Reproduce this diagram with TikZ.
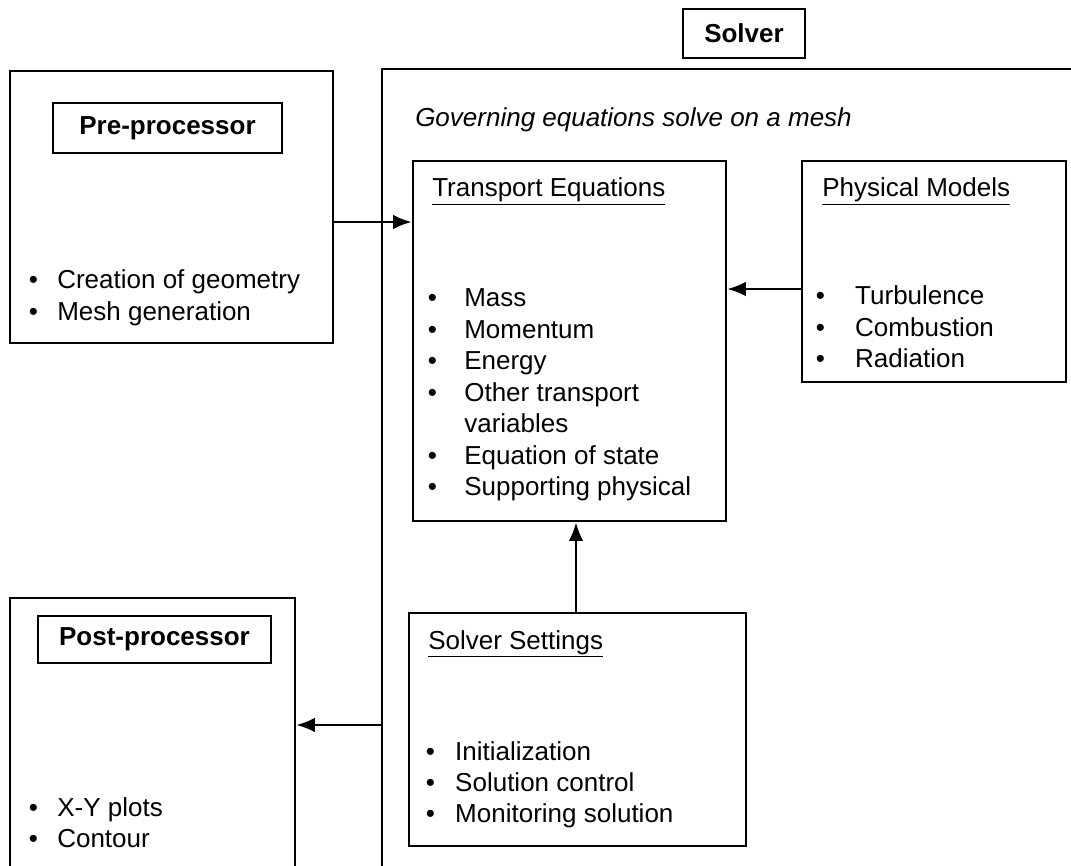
\documentclass[tikz,border=0pt]{standalone}
\usepackage{fontspec}
\setmainfont{Liberation Sans}
\usetikzlibrary{arrows.meta}
\newlength\bw
\newcommand\bl{\makebox[\bw][l]{\textbullet}}
\newcommand\ind{\hspace*{\bw}}
\newcommand\blist[2]{\setlength\bw{#1}\parbox[t]{9cm}{\raggedright #2}}
\begin{document}
\begin{tikzpicture}[x=0.75pt,y=-0.75pt,
  every node/.style={font=\fontsize{19.5}{23.6}\selectfont},
  box/.style={draw, line width=1.9pt, inner sep=0pt},
  lbl/.style={draw, line width=2.2pt, inner sep=0pt, font=\fontsize{19.5}{23.6}\selectfont\bfseries},
  txt/.style={anchor=base west, inner sep=0pt},
  arr/.style={line width=1.9pt, -{Latex[length=14pt,width=11pt]}}]
\useasboundingbox (0,0) rectangle (1071,866);
\clip (0,0) rectangle (1071,866);
% boxes
\node[lbl, minimum width=91.5pt, minimum height=36.75pt] (solverlbl) at (744,33.5) {Solver};
\node[box, minimum width=242.25pt, minimum height=204pt] (pre) at (171.5,207) {};
\node[lbl, minimum width=171.75pt, minimum height=37.5pt] (prelbl) at (167.5,128) {Pre-processor};
\node[box, minimum width=538.5pt, minimum height=623.25pt] (solver) at (741,484.5) {};
\node[box, minimum width=234.75pt, minimum height=270pt] (trans) at (569.5,341) {};
\node[box, minimum width=198pt, minimum height=165.75pt] (phys) at (934,271.5) {};
\node[box, minimum width=252.75pt, minimum height=174.75pt] (sett) at (577.5,729.5) {};
\node[box, minimum width=213.75pt, minimum height=226.5pt] (post) at (152.5,749) {};
\node[lbl, minimum width=174.75pt, minimum height=35.25pt] (postlbl) at (154.5,639.5) {Post-processor};
% texts
\node[txt] (gov) at (415,127) {\itshape Governing equations solve on a mesh};
\node[txt] (transt) at (432,197) {\underline{Transport Equations}};
\node[txt] (physt) at (822,197) {\underline{Physical Models}};
\node[txt] (settt) at (428,649) {\underline{Solver Settings}};
\node[txt] (prelist) at (28.5,289) {\blist{21.4pt}{\bl Creation of geometry\\\bl Mesh generation}};
\node[txt] (translist) at (427.5,307) {\blist{27.4pt}{\bl Mass\\\bl Momentum\\\bl Energy\\\bl Other transport\\\ind variables\\\bl Equation of state\\\bl Supporting physical}};
\node[txt] (physlist) at (815.5,305) {\blist{29.6pt}{\bl Turbulence\\\bl Combustion\\\bl Radiation}};
\node[txt] (settlist) at (425.5,760) {\blist{22.1pt}{\bl Initialization\\\bl Solution control\\\bl Monitoring solution}};
\node[txt] (postlist) at (28.5,816) {\blist{21.4pt}{\bl X-Y plots\\\bl Contour}};
% connectors
\coordinate (a1) at (0,222);
\coordinate (a2) at (0,289);
\coordinate (a3) at (576,0);
\coordinate (a4) at (0,725);
\draw[arr] (pre.east |- a1) -- (trans.west |- a1);
\draw[arr] (phys.west |- a2) -- (trans.east |- a2);
\draw[arr] (sett.north -| a3) -- (trans.south -| a3);
\draw[arr] (solver.west |- a4) -- (post.east |- a4);
\end{tikzpicture}
\end{document}
